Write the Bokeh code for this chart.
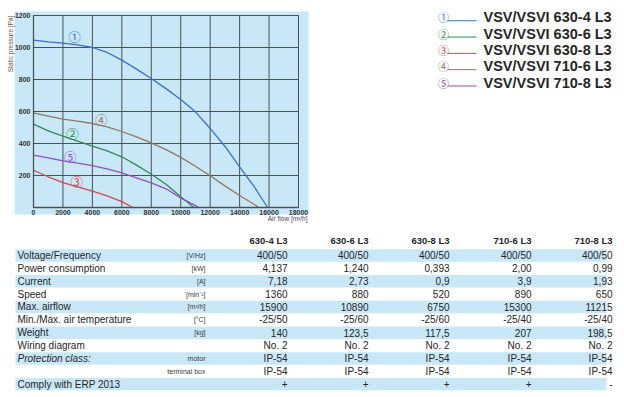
import math
from bokeh.plotting import figure
from bokeh.models import Range1d, LinearAxis, FixedTicker, Label, BoxAnnotation
from bokeh.layouts import column, row
from bokeh.core.properties import value
from bokeh.embed import file_html
from bokeh.resources import INLINE

# ---------------- data ----------------
models = ["VSV/VSVI 630-4 L3", "VSV/VSVI 630-6 L3", "VSV/VSVI 630-8 L3",
          "VSV/VSVI 710-6 L3", "VSV/VSVI 710-8 L3"]
marks = ["①", "②", "③", "④", "⑤"]
colors = ["#3b6fc7", "#2f8a55", "#d8464f", "#94775c", "#9050c8"]

flow_1 = [0, 1000, 2000, 3000, 4000, 5000, 6000, 7000, 8000, 9000, 10000, 11000, 12000, 13000, 14000, 15000, 15900]
pres_1 = [1046, 1035, 1027, 1017, 1000, 969, 921, 865, 806, 743, 675, 598, 494, 383, 254, 129, 0]
flow_2 = [0, 1000, 2000, 3000, 4000, 5000, 6000, 7000, 8000, 9000, 10000, 10890]
pres_2 = [521, 479, 446, 415, 383, 354, 317, 265, 208, 145, 67, 0]
flow_3 = [0, 1000, 2000, 3000, 4000, 5000, 6000, 6750]
pres_3 = [233, 192, 156, 129, 102, 73, 37, 0]
flow_4 = [0, 1000, 2000, 3000, 4000, 5000, 6000, 7000, 8000, 9000, 10000, 11000, 12000, 13000, 14000, 15000, 15300]
pres_4 = [592, 571, 552, 540, 525, 504, 475, 442, 404, 362, 313, 258, 198, 135, 75, 19, 0]
flow_5 = [0, 1000, 2000, 3000, 4000, 5000, 6000, 7000, 8000, 9000, 10000, 11000, 11215]
pres_5 = [327, 310, 292, 277, 262, 242, 217, 185, 154, 117, 60, 12, 0]
flows = [flow_1, flow_2, flow_3, flow_4, flow_5]
pressures = [pres_1, pres_2, pres_3, pres_4, pres_5]

mark_flow = [2785, 2650, 2945, 4600, 2490]
mark_pres = [1069, 464, 160, 548, 320]

x_ticks = [0, 2000, 4000, 6000, 8000, 10000, 12000, 14000, 16000, 18000]
y_ticks = [0, 200, 400, 600, 800, 1000, 1200]

headers = ["630-4 L3", "630-6 L3", "630-8 L3", "710-6 L3", "710-8 L3"]
row_labels = ["Voltage/Frequency", "Power consumption", "Current", "Speed", "Max. airflow",
              "Min./Max. air temperature", "Weight", "Wiring diagram", "Protection class:", "",
              "Comply with ERP 2013"]
row_styles = ["normal"] * 8 + ["italic", "normal", "normal"]
units = ["[V/Hz]", "[kW]", "[A]", "[min⁻¹]", "[m³/h]", "[°C]", "[kg]", "", "motor", "terminal box", ""]
vals_630_4 = ["400/50", "4,137", "7,18", "1360", "15900", "-25/50", "140", "No. 2", "IP-54", "IP-54", "+"]
vals_630_6 = ["400/50", "1,240", "2,73", "880", "10890", "-25/60", "123,5", "No. 2", "IP-54", "IP-54", "+"]
vals_630_8 = ["400/50", "0,393", "0,9", "520", "6750", "-25/60", "117,5", "No. 2", "IP-54", "IP-54", "+"]
vals_710_6 = ["400/50", "2,00", "3,9", "890", "15300", "-25/40", "207", "No. 2", "IP-54", "IP-54", "+"]
vals_710_8 = ["400/50", "0,99", "1,93", "650", "11215", "-25/40", "198,5", "No. 2", "IP-54", "IP-54", "-"]
table_cols = [vals_630_4, vals_630_6, vals_630_8, vals_710_6, vals_710_8]

# ---------------- styles ----------------
FONT = value("Liberation Sans")
CJK = value("Noto Sans CJK JP")
BLUE_BG = "#c8e8f8"
GRID = "#4f4f4f"
TXT = "#262626"

# ---------------- chart ----------------
# pixel layout of the chart block (page coords): axes 0..18000 -> x 33..298, 0..1200 -> y 207..15
px_per_x = 265 / 18000.0
px_per_y = 192 / 1200.0
CW, CH = 312, 230
fx_lo = -33 / px_per_x
fx_hi = 18000 + (CW - 298) / px_per_x
fy_lo = -(CH - 207) / px_per_y
fy_hi = 1200 + 15 / px_per_y

chart = figure(width=CW, height=CH, output_backend="svg", toolbar_location=None,
               x_axis_location=None, y_axis_location=None, title=None,
               x_range=Range1d(fx_lo, fx_hi), y_range=Range1d(fy_lo, fy_hi), min_border=0)
chart.background_fill_color = "white"
chart.border_fill_color = "white"
chart.outline_line_color = None
chart.grid.visible = False

# light blue panel behind the diagram
chart.add_layout(BoxAnnotation(left=-19 / px_per_x, right=18000 + 10 / px_per_x,
                               bottom=-7 / px_per_y, top=1200 + 4 / px_per_y,
                               fill_color=BLUE_BG, fill_alpha=1, line_color=None, level="underlay"))

# grid lines from tick arrays
chart.segment(x0=x_ticks, y0=[y_ticks[0]] * len(x_ticks), x1=x_ticks, y1=[y_ticks[-1]] * len(x_ticks),
              line_color=GRID, line_width=1)
chart.segment(x0=[x_ticks[0]] * len(y_ticks), y0=y_ticks, x1=[x_ticks[-1]] * len(y_ticks), y1=y_ticks,
              line_color=GRID, line_width=1)

for fx, py, c in zip(flows, pressures, colors):
    chart.line(fx, py, line_color=c, line_width=1.3)

chart.text(x=mark_flow, y=mark_pres, text=marks, text_color=colors, text_font=CJK,
           text_font_size="12.5px", text_align="center", text_baseline="middle")

xaxis = LinearAxis(ticker=FixedTicker(ticks=x_ticks), fixed_location=0, bounds=(x_ticks[0], x_ticks[-1]))
yaxis = LinearAxis(ticker=FixedTicker(ticks=y_ticks[1:]), fixed_location=0, bounds=(y_ticks[0], y_ticks[-1]))
for ax in (xaxis, yaxis):
    ax.axis_line_color = GRID
    ax.axis_line_width = 1.3
    ax.major_tick_line_color = None
    ax.minor_tick_line_color = None
    ax.major_tick_out = 0
    ax.major_tick_in = 0
    ax.major_label_text_font = "Liberation Sans"
    ax.major_label_text_font_style = "bold"
    ax.major_label_text_font_size = "7px"
    ax.major_label_text_color = "#333333"
xaxis.major_label_standoff = 2
yaxis.major_label_standoff = 3
chart.add_layout(xaxis, "below")
chart.add_layout(yaxis, "left")

chart.add_layout(Label(x=-23 / px_per_x, y=y_ticks[-1], text="Static pressure [Pa]", angle=math.pi / 2,
                       text_align="right", text_baseline="middle", text_font="Liberation Sans",
                       text_font_size="6.5px", text_color="#6e4a36"))
chart.add_layout(Label(x=x_ticks[-1] + 9 / px_per_x, y=-11 / px_per_y, text="Air flow [m³/h]",
                       text_align="right", text_baseline="middle", text_font="Liberation Sans",
                       text_font_size="6.5px", text_color="#4a4070"))

# ---------------- legend ----------------
leg = figure(width=312, height=230, output_backend="svg", toolbar_location=None,
             x_axis_location=None, y_axis_location=None, title=None,
             x_range=Range1d(312, 624), y_range=Range1d(13.07, -1.043), min_border=0)
leg.outline_line_color = None
leg.grid.visible = False
idx = list(range(len(models)))
leg.segment(x0=[447] * len(idx), y0=[i + 0.2 for i in idx], x1=[476] * len(idx), y1=[i + 0.2 for i in idx],
            line_color=colors, line_width=1)
leg.text(x=[443] * len(idx), y=idx, text=marks, text_color=colors, text_font=CJK, text_font_size="11px",
         text_align="center", text_baseline="middle")
leg.text(x=[483] * len(idx), y=idx, text=models, text_color=TXT, text_font=FONT, text_font_size="14.5px",
         text_font_style="bold", text_align="left", text_baseline="middle")

# ---------------- table ----------------
tab = figure(width=624, height=166, output_backend="svg", toolbar_location=None,
             x_axis_location=None, y_axis_location=None, title=None,
             x_range=Range1d(0, 624), y_range=Range1d(10.956, -1.9425), min_border=0)
tab.outline_line_color = None
tab.grid.visible = False

nrows = len(row_labels)
band_rows = [k for k in range(nrows) if k % 2 == 0]
tab.rect(x=[310.5] * len(band_rows), y=band_rows, width=591, height=0.96, fill_color=BLUE_BG, line_color=None)

tab.text(x=[17] * nrows, y=list(range(nrows)), text=row_labels, text_font_style=row_styles,
         text_color=TXT, text_font=FONT, text_font_size="10px", text_align="left", text_baseline="middle")
tab.text(x=[205] * nrows, y=list(range(nrows)), text=units, text_color="#3a3a3a", text_font=FONT,
         text_font_size="7px", text_align="right", text_baseline="middle")

col_x = [287, 368, 449, 531, 612]
cx, cy, ct = [], [], []
for xx, vals in zip(col_x, table_cols):
    for k, v in enumerate(vals):
        cx.append(xx)
        cy.append(k)
        ct.append(v)
tab.text(x=cx, y=cy, text=ct, text_color=TXT, text_font=FONT, text_font_size="10px",
         text_align="right", text_baseline="middle")
tab.text(x=col_x, y=[-1.15] * len(col_x), text=headers, text_color=TXT, text_font=FONT,
         text_font_size="9.5px", text_font_style="bold", text_align="right", text_baseline="middle")

layout = column(row(chart, leg, spacing=0), tab, spacing=0)
open("out.html", "w").write(file_html(layout, INLINE))
